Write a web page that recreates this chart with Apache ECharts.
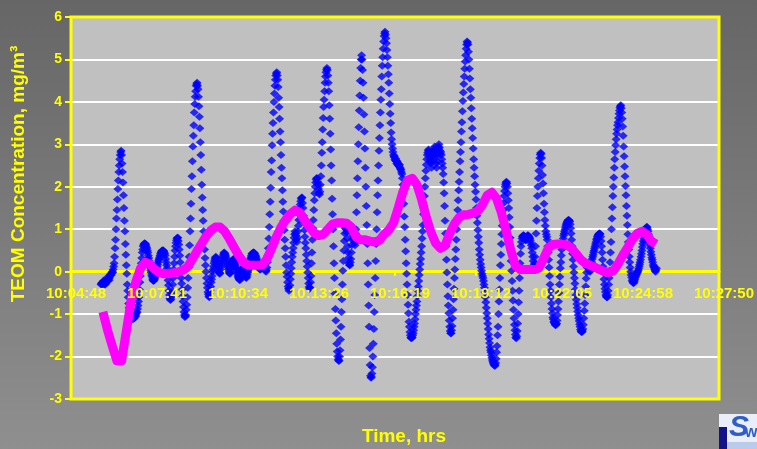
<!DOCTYPE html>
<html>
<head>
<meta charset="utf-8">
<script src="https://cdn.jsdelivr.net/npm/echarts@6/dist/echarts.min.js"></script>
<style>
  html, body { margin: 0; padding: 0; background: #7a7a7a; }
  #chart { width: 757px; height: 449px; }
</style>
</head>
<body>
<div id="chart"></div>
<script>
// Time axis (seconds after midnight): 0.420 to 0.436 of a day, ticks every 0.002 day
const axisMin = 36288;
const axisMax = 37670.4;
const axisStep = 172.8;
const xTickLabels = ['10:04:48', '10:07:41', '10:10:34', '10:13:26', '10:16:19',
                     '10:19:12', '10:22:05', '10:24:58', '10:27:50'];
const yTickLabels = ['-3', '-2', '-1', '0', '1', '2', '3', '4', '5', '6'];

// TEOM readings, one per second starting 10:05:52
const teomStart = 36352;
const teomStep = 1;
const teomValues = [
  -0.30,-0.28,-0.26,-0.30,-0.25,-0.22,-0.27,-0.30,-0.25,-0.30,-0.28,-0.20,-0.15,-0.18,-0.22,-0.20,-0.17,-0.20,-0.15,-0.10,-0.07,-0.05,-0.08,-0.03,0.00,-0.02,0.05,0.12,0.20,0.35,0.55,0.75,
  1.00,1.25,1.45,1.70,1.95,2.15,2.35,2.50,2.65,2.75,2.82,2.85,2.75,2.55,2.35,2.10,1.80,1.50,1.20,0.95,0.65,0.40,0.15,-0.05,-0.30,-0.45,-0.60,-0.75,-0.85,-0.95,-1.00,-1.05,
  -1.08,-1.10,-1.07,-1.10,-1.12,-1.10,-1.08,-1.10,-1.05,-1.03,-1.05,-1.00,-0.97,-0.95,-0.88,-0.80,-0.70,-0.60,-0.42,-0.25,-0.10,0.05,0.20,0.32,0.45,0.52,0.60,0.63,0.65,0.67,0.66,0.65,
  0.62,0.58,0.55,0.50,0.45,0.38,0.32,0.25,0.18,0.10,0.03,-0.02,-0.08,-0.12,-0.17,-0.20,-0.22,-0.20,-0.18,-0.15,-0.10,-0.05,0.02,0.08,0.12,0.17,0.22,0.27,0.30,0.34,0.38,0.42,
  0.45,0.47,0.49,0.50,0.50,0.50,0.48,0.45,0.42,0.38,0.30,0.22,0.15,0.08,-0.05,-0.20,-0.32,-0.45,-0.55,-0.63,-0.67,-0.65,-0.60,-0.52,-0.45,-0.30,-0.15,0.05,0.20,0.35,0.50,0.60,
  0.68,0.74,0.78,0.80,0.80,0.72,0.64,0.52,0.38,0.22,0.05,-0.15,-0.28,-0.42,-0.58,-0.70,-0.83,-0.95,-1.02,-1.07,-1.05,-1.02,-0.90,-0.78,-0.60,-0.38,-0.15,0.10,0.35,0.62,0.95,1.25,
  1.60,1.95,2.25,2.60,2.95,3.20,3.45,3.75,3.95,4.12,4.25,4.38,4.42,4.45,4.38,4.30,4.12,3.90,3.65,3.38,3.05,2.75,2.40,2.05,1.75,1.45,1.20,0.95,0.75,0.52,0.32,0.15,
  0.00,-0.15,-0.28,-0.38,-0.48,-0.53,-0.58,-0.60,-0.52,-0.44,-0.35,-0.25,-0.18,-0.10,0.00,0.05,0.12,0.20,0.25,0.30,0.33,0.35,0.32,0.25,0.18,0.12,0.08,0.02,-0.02,-0.05,-0.03,0.05,
  0.12,0.18,0.25,0.30,0.36,0.40,0.44,0.45,0.43,0.40,0.37,0.33,0.27,0.20,0.15,0.10,0.05,0.00,-0.03,-0.05,-0.02,0.05,0.12,0.18,0.22,0.26,0.29,0.30,0.28,0.23,0.18,0.14,
  0.10,0.05,0.00,-0.05,-0.10,-0.13,-0.16,-0.18,-0.20,-0.17,-0.10,-0.03,0.02,0.05,0.07,0.09,0.10,0.10,0.05,-0.02,-0.08,-0.13,-0.15,-0.12,-0.07,-0.02,0.02,0.07,0.12,0.18,0.25,0.30,
  0.34,0.38,0.42,0.43,0.44,0.45,0.45,0.44,0.42,0.39,0.37,0.34,0.30,0.26,0.22,0.20,0.16,0.12,0.08,0.05,0.05,0.07,0.08,0.10,0.12,0.15,0.17,0.19,0.20,0.15,0.08,0.03,
  0.00,0.04,0.10,0.22,0.38,0.55,0.78,1.05,1.35,1.65,1.98,2.35,2.62,2.98,3.25,3.50,3.75,4.00,4.20,4.38,4.52,4.62,4.67,4.70,4.62,4.52,4.35,4.10,3.88,3.60,3.30,3.05,
  2.75,2.45,2.20,1.92,1.65,1.42,1.20,0.98,0.75,0.55,0.35,0.15,-0.02,-0.12,-0.25,-0.35,-0.40,-0.45,-0.40,-0.32,-0.18,-0.05,0.08,0.22,0.35,0.45,0.56,0.68,0.80,0.88,0.95,0.90,
  0.85,0.76,0.70,0.80,0.95,1.08,1.22,1.35,1.50,1.58,1.66,1.72,1.74,1.75,1.62,1.50,1.32,1.15,0.98,0.82,0.68,0.55,0.40,0.25,0.12,-0.02,-0.15,-0.28,-0.36,-0.40,-0.38,-0.25,
  -0.10,0.20,0.45,0.75,1.02,1.22,1.45,1.68,1.85,2.00,2.10,2.17,2.20,2.20,2.12,2.05,1.95,1.85,1.82,1.88,2.05,2.25,2.50,2.80,3.05,3.35,3.62,3.88,4.05,4.25,4.45,4.60,
  4.70,4.76,4.80,4.75,4.62,4.45,4.25,3.92,3.60,3.25,2.88,2.50,2.15,1.72,1.35,1.00,0.60,0.20,-0.15,-0.52,-0.88,-1.15,-1.45,-1.70,-1.88,-2.00,-2.07,-2.10,-2.10,-2.00,-1.85,-1.60,
  -1.30,-0.95,-0.65,-0.30,0.02,0.25,0.50,0.72,0.90,1.02,1.05,1.00,0.92,0.78,0.60,0.45,0.32,0.20,0.16,0.15,0.22,0.30,0.45,0.62,0.75,0.85,0.90,0.82,0.75,0.68,0.62,0.90,
  1.00,1.40,1.80,2.20,2.60,3.00,3.40,3.80,4.15,4.50,4.80,5.00,5.10,5.00,4.75,4.45,4.10,3.70,3.30,2.90,2.45,2.00,1.55,1.10,0.65,0.20,-0.30,-0.80,-1.30,-1.80,-2.20,-2.45,
  -2.50,-2.48,-2.40,-2.25,-2.00,-1.70,-1.35,-0.95,-0.55,-0.15,0.25,0.65,1.00,1.40,1.80,2.15,2.50,2.85,3.15,3.45,3.75,4.05,4.30,4.60,4.85,5.05,5.25,5.42,5.55,5.62,5.65,5.58,
  5.50,5.38,5.22,5.05,4.85,4.65,4.45,4.20,3.95,3.72,3.50,3.28,3.12,3.00,2.90,2.82,2.75,2.70,2.72,2.65,2.62,2.66,2.60,2.55,2.60,2.52,2.55,2.50,2.48,2.52,2.45,2.42,
  2.40,2.35,2.30,2.20,2.05,1.85,1.60,1.30,1.05,0.75,0.48,0.20,-0.05,-0.30,-0.55,-0.78,-0.98,-1.18,-1.30,-1.42,-1.50,-1.55,-1.57,-1.55,-1.55,-1.50,-1.45,-1.38,-1.30,-1.22,-1.12,-1.00,
  -0.90,-0.80,-0.70,-0.58,-0.45,-0.35,-0.22,-0.08,0.05,0.18,0.30,0.45,0.60,0.78,0.95,1.10,1.35,1.55,1.78,2.00,2.20,2.38,2.52,2.65,2.75,2.80,2.85,2.88,2.82,2.75,2.65,2.60,
  2.55,2.45,2.60,2.70,2.80,2.72,2.85,2.90,2.95,2.85,2.70,2.55,2.45,2.60,2.78,2.90,2.95,3.00,2.92,2.85,2.78,2.82,2.75,2.65,2.55,2.45,2.30,2.10,1.85,1.55,1.20,0.90,
  0.60,0.28,-0.02,-0.30,-0.58,-0.80,-0.98,-1.15,-1.30,-1.40,-1.45,-1.45,-1.38,-1.28,-1.10,-0.90,-0.65,-0.40,-0.15,0.05,0.30,0.52,0.75,1.00,1.22,1.45,1.68,1.92,2.12,2.35,2.60,2.82,
  3.05,3.30,3.52,3.78,4.02,4.22,4.42,4.60,4.78,4.95,5.10,5.25,5.35,5.42,5.40,5.35,5.18,5.00,4.78,4.55,4.30,4.10,3.85,3.60,3.38,3.15,2.90,2.65,2.45,2.25,2.05,1.88,
  1.70,1.50,1.32,1.15,0.98,0.82,0.68,0.52,0.40,0.28,0.18,0.10,0.02,-0.05,-0.10,-0.15,-0.22,-0.30,-0.38,-0.48,-0.60,-0.72,-0.85,-0.98,-1.10,-1.22,-1.35,-1.48,-1.58,-1.68,-1.78,-1.85,
  -1.90,-1.97,-2.03,-2.08,-2.12,-2.15,-2.18,-2.20,-2.22,-2.20,-2.15,-2.05,-1.90,-1.75,-1.50,-1.30,-1.00,-0.70,-0.42,-0.15,0.15,0.40,0.65,0.88,1.08,1.28,1.45,1.62,1.78,1.90,2.00,2.06,
  2.10,2.12,2.08,2.00,1.85,1.68,1.50,1.28,1.05,0.80,0.52,0.25,0.02,-0.22,-0.45,-0.68,-0.90,-1.10,-1.25,-1.38,-1.48,-1.55,-1.57,-1.52,-1.40,-1.22,-1.00,-0.72,-0.45,-0.15,0.20,0.42,
  0.60,0.70,0.78,0.82,0.84,0.86,0.85,0.82,0.80,0.76,0.74,0.75,0.78,0.82,0.85,0.86,0.84,0.82,0.80,0.78,0.74,0.68,0.62,0.55,0.45,0.35,0.25,0.15,0.12,0.20,0.35,0.60,
  0.90,1.20,1.50,1.78,2.00,2.20,2.38,2.55,2.68,2.76,2.80,2.78,2.68,2.50,2.28,2.08,1.85,1.60,1.40,1.22,1.08,0.95,0.88,0.82,0.75,0.60,0.45,0.28,0.10,-0.10,-0.30,-0.45,
  -0.60,-0.75,-0.88,-0.98,-1.08,-1.12,-1.18,-1.20,-1.22,-1.25,-1.26,-1.24,-1.22,-1.15,-1.02,-0.88,-0.70,-0.50,-0.30,-0.12,0.08,0.22,0.38,0.52,0.62,0.70,0.78,0.85,0.90,0.95,1.00,1.05,
  1.10,1.13,1.16,1.18,1.20,1.22,1.22,1.20,1.18,1.12,1.02,0.90,0.75,0.60,0.42,0.28,0.12,-0.02,-0.15,-0.28,-0.42,-0.55,-0.66,-0.76,-0.85,-0.94,-1.02,-1.10,-1.16,-1.24,-1.30,-1.36,
  -1.40,-1.42,-1.42,-1.40,-1.35,-1.25,-1.10,-0.92,-0.75,-0.55,-0.35,-0.16,-0.02,0.10,0.16,0.20,0.18,0.12,0.05,0.00,0.02,0.08,0.15,0.22,0.30,0.35,0.40,0.46,0.50,0.55,0.60,0.65,
  0.70,0.75,0.78,0.82,0.85,0.87,0.89,0.90,0.90,0.88,0.82,0.72,0.60,0.45,0.28,0.12,-0.02,-0.18,-0.30,-0.40,-0.48,-0.55,-0.58,-0.60,-0.60,-0.55,-0.45,-0.30,-0.15,0.02,0.22,0.45,
  0.70,1.00,1.25,1.52,1.78,2.00,2.22,2.45,2.65,2.82,2.98,3.12,3.25,3.35,3.45,3.52,3.62,3.72,3.80,3.86,3.90,3.92,3.85,3.75,3.60,3.42,3.20,2.95,2.72,2.48,2.25,2.02,
  1.80,1.55,1.32,1.10,0.88,0.70,0.52,0.36,0.22,0.10,0.00,-0.08,-0.14,-0.20,-0.23,-0.25,-0.27,-0.25,-0.22,-0.18,-0.14,-0.10,-0.08,-0.05,-0.02,0.00,0.03,0.07,0.12,0.17,0.22,0.28,
  0.35,0.42,0.50,0.58,0.66,0.72,0.78,0.85,0.90,0.95,0.98,1.02,1.05,1.05,1.00,0.95,0.88,0.80,0.70,0.62,0.55,0.47,0.40,0.33,0.28,0.22,0.16,0.12,0.10,0.06,0.03,0.00,
  0.04,0.08
];

// Running average, one value every 10 s starting 10:05:56
const avgStart = 36356;
const avgStep = 10;
const avgValues = [
  -0.95,-1.38,-1.75,-2.10,-2.10,-1.40,-0.70,-0.25,0.07,0.22,
  0.18,0.06,-0.02,-0.05,-0.05,-0.03,-0.01,0.03,0.10,0.28,
  0.47,0.65,0.83,0.97,1.05,1.05,0.95,0.77,0.57,0.38,
  0.22,0.15,0.15,0.15,0.16,0.30,0.55,0.82,1.05,1.22,
  1.36,1.45,1.40,1.22,1.07,0.92,0.85,0.88,1.00,1.12,
  1.15,1.15,1.14,1.05,0.82,0.75,0.75,0.72,0.70,0.74,
  0.88,0.98,1.15,1.50,1.88,2.15,2.20,2.05,1.70,1.28,
  0.93,0.67,0.55,0.62,0.90,1.13,1.28,1.34,1.35,1.38,
  1.43,1.58,1.80,1.87,1.72,1.40,0.98,0.52,0.14,0.05,
  0.05,0.05,0.05,0.08,0.30,0.55,0.64,0.65,0.65,0.63,
  0.55,0.42,0.28,0.19,0.15,0.10,0.05,0.00,-0.02,0.03,
  0.20,0.40,0.58,0.77,0.90,0.95,0.88,0.72,0.65
];

const FONT = '"Liberation Sans", Arial, sans-serif';
const YELLOW = '#FFFF00';

// Plot frame in pixels
const gridLeft = 71, gridRight = 38, gridTop = 17, gridBottom = 50;
const plotHeight = 449 - gridTop - gridBottom;
const yMin = -3, yMax = 6;
// the time axis sits on the zero line
const zeroOffset = -plotHeight * (0 - yMin) / (yMax - yMin);

const teomData = teomValues.map((v, i) => [teomStart + i * teomStep, v]);
const avgData = avgValues.map((v, i) => [avgStart + i * avgStep, v]);

const timeLabel = v => xTickLabels[Math.round((v - axisMin) / axisStep)] || '';

const chart = echarts.init(document.getElementById('chart'), null, { renderer: 'canvas' });

chart.setOption({
  animation: false,
  backgroundColor: new echarts.graphic.LinearGradient(0, 0, 0, 1, [
    { offset: 0, color: '#666666' },
    { offset: 1, color: '#8f8f8f' }
  ]),
  grid: {
    left: gridLeft, right: gridRight, top: gridTop, bottom: gridBottom,
    show: true, backgroundColor: '#C0C0C0', borderWidth: 0
  },
  xAxis: [
    {
      // axis line and ticks, drawn beneath the data
      type: 'value',
      min: axisMin, max: axisMax, interval: axisStep,
      z: 1,
      offset: zeroOffset,
      axisLine: { onZero: false, lineStyle: { color: YELLOW, width: 3 } },
      axisTick: { show: true, length: 4, lineStyle: { color: YELLOW, width: 2 } },
      axisLabel: { show: false },
      splitLine: { show: false }
    },
    {
      // time labels, drawn above the data
      type: 'value',
      position: 'bottom',
      min: axisMin, max: axisMax, interval: axisStep,
      z: 10,
      offset: zeroOffset,
      axisLine: { show: false, onZero: false },
      axisTick: { show: false },
      axisLabel: {
        color: YELLOW, fontFamily: FONT, fontWeight: 'bold', fontSize: 15,
        margin: 15, padding: [0, 0, 0, 10],
        showMinLabel: true, showMaxLabel: true, hideOverlap: false,
        formatter: timeLabel
      },
      splitLine: { show: false }
    }
  ],
  yAxis: {
    type: 'value',
    min: yMin, max: yMax, interval: 1,
    z: 0,
    axisLine: { show: false },
    axisTick: { show: true, length: 6, lineStyle: { color: YELLOW, width: 2 } },
    axisLabel: {
      color: YELLOW, fontFamily: FONT, fontWeight: 'bold', fontSize: 14, margin: 9,
      formatter: v => yTickLabels[Math.round(v - yMin)]
    },
    splitLine: { show: true, lineStyle: { color: '#FFFFFF', width: 2 } }
  },
  series: [
    {
      name: 'TEOM',
      type: 'scatter',
      xAxisIndex: 0,
      data: teomData,
      symbol: 'diamond',
      symbolSize: [9, 8],
      itemStyle: { color: '#0000FF' },
      z: 2
    },
    {
      name: 'Average',
      type: 'line',
      xAxisIndex: 0,
      data: avgData,
      showSymbol: false,
      symbol: 'none',
      smooth: false,
      lineStyle: { color: '#FF00FF', width: 9, cap: 'butt', join: 'round' },
      z: 3
    }
  ],
  graphic: [
    {
      type: 'rect', z: 100, silent: true,
      shape: { x: gridLeft, y: gridTop, width: 757 - gridLeft - gridRight, height: plotHeight },
      style: { fill: null, stroke: YELLOW, lineWidth: 3 }
    },
    {
      type: 'text', z: 100, x: 19, y: 174, rotation: Math.PI / 2,
      style: {
        text: 'TEOM Concentration, mg/m³', fill: YELLOW,
        fontFamily: FONT, fontWeight: 'bold', fontSize: 19,
        align: 'center', verticalAlign: 'middle'
      }
    },
    {
      type: 'text', z: 100, x: 404, y: 437,
      style: {
        text: 'Time, hrs', fill: YELLOW,
        fontFamily: FONT, fontWeight: 'bold', fontSize: 19,
        align: 'center', verticalAlign: 'middle'
      }
    },
    {
      type: 'group', z: 100,
      children: [
        { type: 'rect', shape: { x: 719, y: 414, width: 38, height: 35 }, style: { fill: '#e9eef8' } },
        { type: 'rect', shape: { x: 719, y: 427, width: 8, height: 22 }, style: { fill: '#14148a' } },
        { type: 'rect', shape: { x: 727, y: 442, width: 30, height: 7 }, style: { fill: '#b9cbe8' } },
        {
          type: 'text', x: 729, y: 413,
          style: { text: 'S', fill: '#2f5fc4', fontFamily: FONT, fontWeight: 'bold', fontStyle: 'italic', fontSize: 30 }
        },
        {
          type: 'text', x: 745, y: 425,
          style: { text: 'w', fill: '#2f5fc4', fontFamily: FONT, fontWeight: 'bold', fontSize: 16 }
        }
      ]
    }
  ]
});
</script>
</body>
</html>
